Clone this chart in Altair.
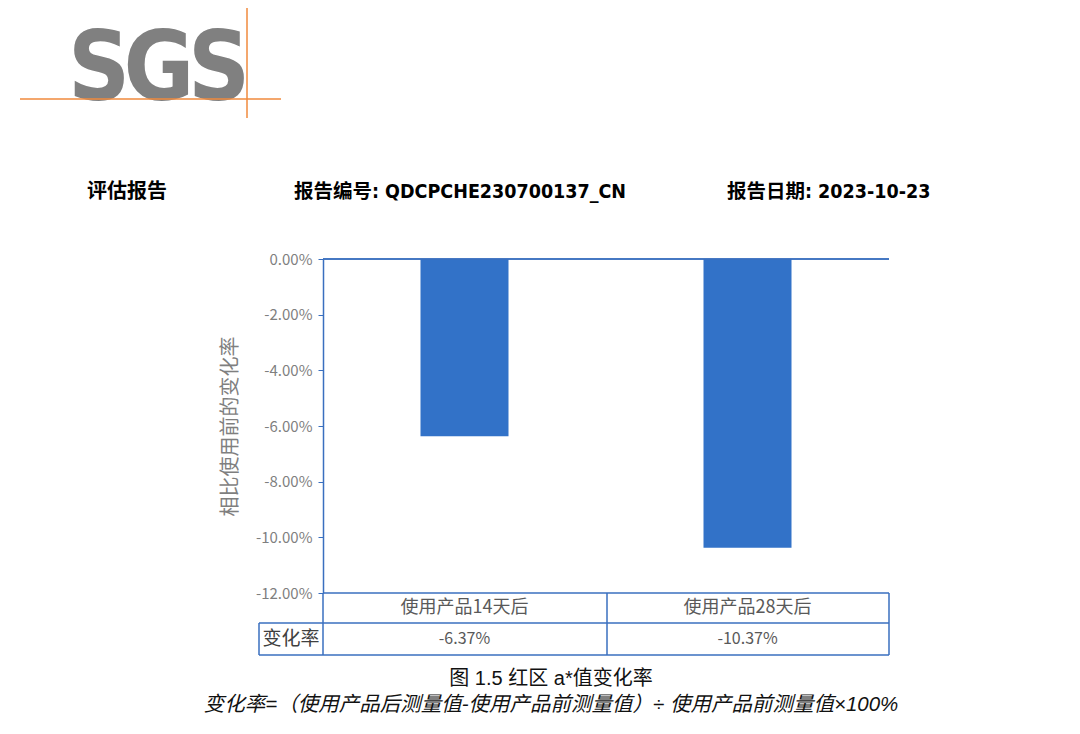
import altair as alt
import pandas as pd

# ---- data ----
categories = ["使用产品14天后", "使用产品28天后"]
change_rates = [-0.0637, -0.1037]
y_ticks = [0.0, -0.02, -0.04, -0.06, -0.08, -0.10, -0.12]
row_header = "变化率"
header_texts = ["评估报告", "报告编号: QDCPCHE230700137_CN", "报告日期: 2023-10-23"]
caption_1 = "图 1.5 红区 a*值变化率"
caption_2 = "变化率=（使用产品后测量值-使用产品前测量值）÷ 使用产品前测量值×100%"
logo_letters = ["S", "G", "S"]
y_title = "相比使用前的变化率"

df = pd.DataFrame({"cat": categories, "val": change_rates})
df["label"] = [f"{v*100:.2f}%" for v in change_rates]

BLUE = "#3272C8"
LINE = "#3A6FBF"
GRAY = "#7F7F7F"
CJK = "Noto Sans CJK SC"
NARROW = "Liberation Sans Narrow, Arial Narrow, DejaVu Sans Condensed, Noto Sans CJK SC"

xs = alt.X("cat:N", scale=alt.Scale(domain=categories), sort=categories,
           axis=alt.Axis(title=None, orient="bottom", ticks=False, tickSize=0, domain=False,
                         labelAngle=0, labelBaseline="middle", labelPadding=14,
                         labelFont=CJK, labelFontSize=18, labelColor="#595959"))
ys = alt.Y("val:Q", scale=alt.Scale(domain=[-0.12, 0], nice=False, zero=True),
           axis=alt.Axis(values=y_ticks, format=".2%", title=y_title,
                         labelExpr="replace(datum.label, '−', '-')",
                         domainColor=LINE, domainWidth=1.5, tickColor=LINE, tickSize=5,
                         labelPadding=6, labelFont=CJK, labelFontSize=15, labelColor=GRAY,
                         titleFont=CJK, titleFontSize=20, titleColor=GRAY, titleFontWeight="normal",
                         titleX=-93, titleY=167, titleAngle=-90, titleAlign="center",
                         titleBaseline="middle", grid=False))

bars = alt.Chart(df).mark_bar(size=88, color=BLUE).encode(x=xs, y=ys)

zero_line = alt.Chart(df).mark_rule(color=LINE, strokeWidth=1.5).encode(y=alt.datum(0))

values_text = alt.Chart(df).mark_text(font=CJK, fontSize=16, color="#595959", baseline="middle").encode(
    x=alt.X("cat:N", scale=alt.Scale(domain=categories), sort=categories),
    y=alt.value(380), text="label:N")

def rule(x1, x2, y1, y2, color=LINE, w=1.5):
    return alt.Chart(df.head(1)).mark_rule(color=color, strokeWidth=w).encode(
        x=alt.value(x1), x2=alt.value(x2), y=alt.value(y1), y2=alt.value(y2))

table_lines = [
    rule(0, 566, 334, 334),
    rule(-64, 566, 364, 364),
    rule(-64, 566, 396, 396),
    rule(-64, -64, 364, 396),
    rule(0, 0, 334, 396),
    rule(284, 284, 334, 396),
    rule(566, 566, 334, 396),
]

def txt(t, x, y, **kw):
    return alt.Chart(pd.DataFrame({"t": [t]})).mark_text(**kw).encode(
        text="t:N", x=alt.value(x), y=alt.value(y))

row_head = txt(row_header, -32, 380, font=CJK, fontSize=19, color="#404040", baseline="middle")

headers = [
    txt(header_texts[0], -236, -67, font=NARROW, fontSize=20, fontWeight="bold", color="#000000", align="left", baseline="middle"),
    txt(header_texts[1], -29, -67, font=NARROW, fontSize=19.5, fontWeight="bold", color="#000000", align="left", baseline="middle"),
    txt(header_texts[2], 404, -67, font=NARROW, fontSize=19.5, fontWeight="bold", color="#000000", align="left", baseline="middle"),
]

captions = [
    txt(caption_1, 228, 420, font="Liberation Sans, Noto Sans CJK SC", fontSize=20, color="#111111", align="center", baseline="middle"),
    txt(caption_2, 228, 446, font="Liberation Sans, Noto Sans CJK SC", fontSize=20.5, fontStyle="italic", color="#111111", align="center", baseline="middle"),
]

logo = [
    txt(logo_letters[0], -224, -159, font=NARROW, fontSize=96, fontWeight="bold", color="#808080", align="center", baseline="alphabetic"),
    txt(logo_letters[1], -164, -159, font=NARROW, fontSize=96, fontWeight="bold", color="#808080", align="center", baseline="alphabetic"),
    txt(logo_letters[2], -104, -159, font=NARROW, fontSize=96, fontWeight="bold", color="#808080", align="center", baseline="alphabetic"),
    rule(-303, -42, -160, -160, color="#F08A3C", w=1.5),
    rule(-76, -76, -251, -141, color="#F08A3C", w=1.5),
]

chart = alt.layer(bars, zero_line, values_text, *table_lines, row_head, *headers, *captions, *logo).properties(
    width=566, height=334,
    background="white",
    autosize=alt.AutoSizeParams(type="none"),
    padding={"left": 315, "top": 251, "right": 183, "bottom": 133},
).configure_view(stroke=None)

chart.save("out.html", embed_options={"renderer": "svg", "actions": False})
